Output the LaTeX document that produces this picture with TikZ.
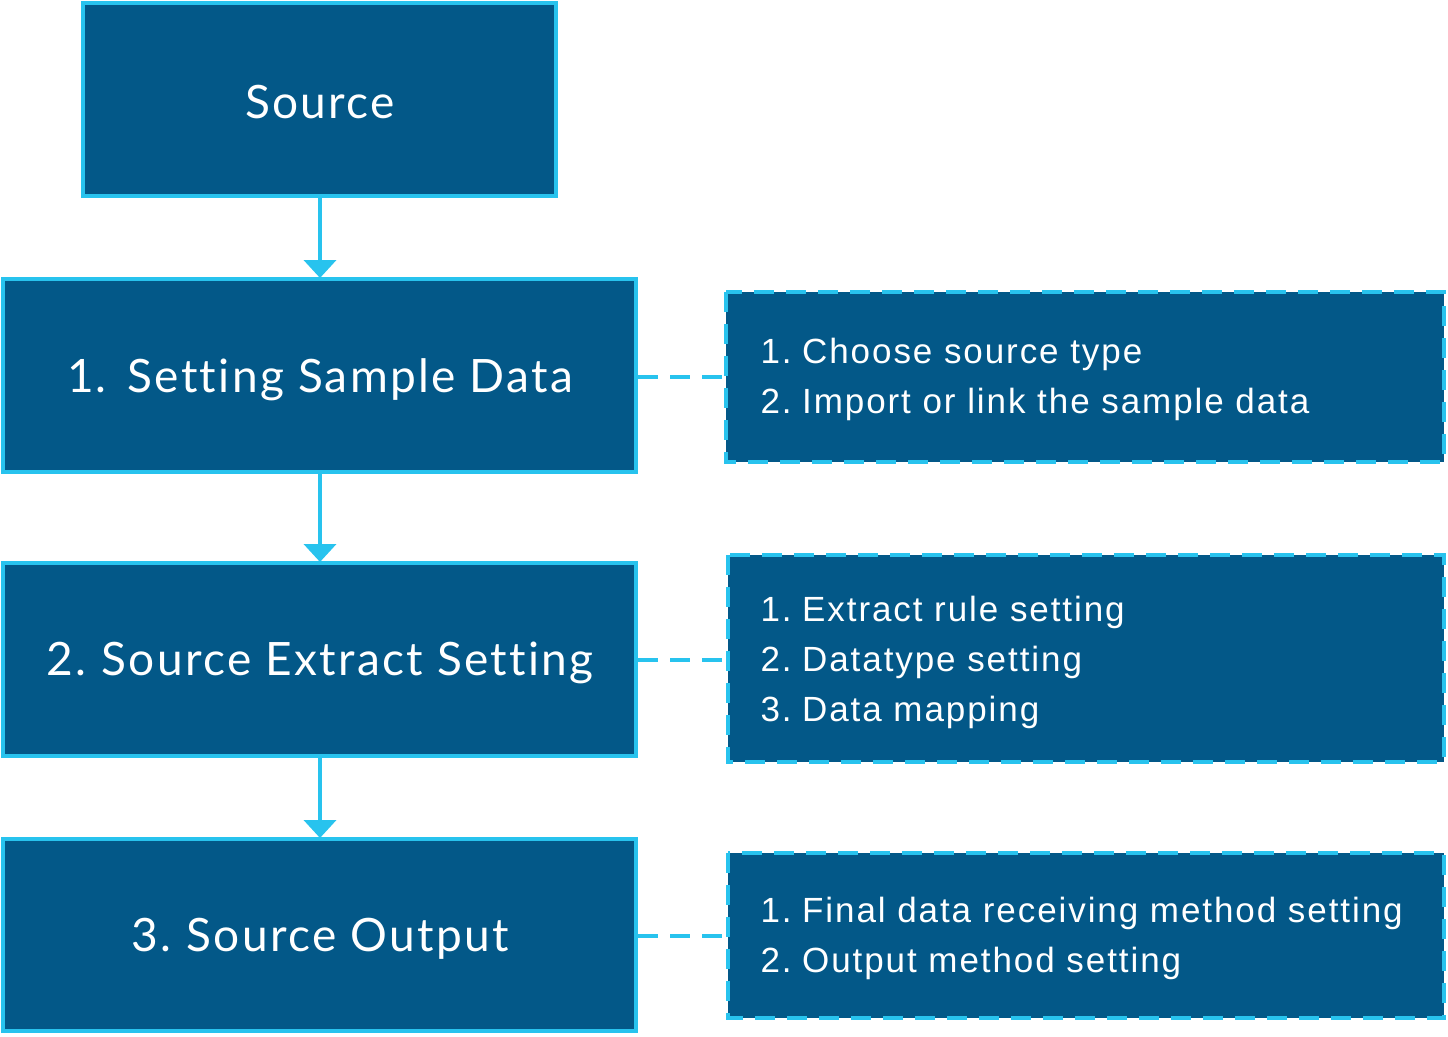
\documentclass[tikz,border=0pt]{standalone}
\usepackage{fontspec}
\setmainfont{Lato}[Ligatures=CommonOff,LetterSpace=5]
\newfontfamily\rfont{Liberation Sans}[LetterSpace=5.5]
\usetikzlibrary{arrows.meta}
\definecolor{boxfill}{HTML}{035888}
\definecolor{boxline}{HTML}{28C3EE}
\newcommand{\nsp}{\hspace{0.3em}}
\newcommand{\msp}{\hspace{0.33em}}
\begin{document}
\begin{tikzpicture}[x=1pt,y=-1pt,
  mainbox/.style={draw=boxline,fill=boxfill,line width=4pt},
  maintext/.style={text=white,font=\fontsize{46}{52}\selectfont},
  sidebox/.style={draw=boxline,fill=boxfill,line width=4pt,dash pattern=on 20pt off 12pt},
  sidetext/.style={text=white,font=\rfont\fontsize{35}{50}\selectfont,align=left,anchor=west},
  flow/.style={draw=boxline,line width=4pt,-{Triangle[width=32pt,length=18pt]},shorten >=-1pt},
  link/.style={draw=boxline,line width=4pt,dash pattern=on 20pt off 12pt}]
\useasboundingbox (0,0) rectangle (1448,1036);
% main boxes
\draw[mainbox] (83,3) rectangle (556,196);
\node[maintext] (src) at (320,102) {Source};
\coordinate (srcS) at (320,198);
\draw[mainbox] (3,279) rectangle (636,472);
\node[maintext] (b1) at (320,380) {1.\hspace{0.45em}Setting Sample Data};
\coordinate (b1N) at (320,277);
\coordinate (b1S) at (320,474);
\coordinate (b1E) at (638,377);
\draw[mainbox] (3,563) rectangle (636,756);
\node[maintext] (b2) at (320,663) {2.\msp Source Extract Setting};
\coordinate (b2N) at (320,561);
\coordinate (b2S) at (320,758);
\coordinate (b2E) at (638,660);
\draw[mainbox] (3,839) rectangle (636,1031);
\node[maintext] (b3) at (320,939) {3.\msp Source Output};
\coordinate (b3N) at (320,837);
\coordinate (b3E) at (638,936);
% side boxes
\draw[sidebox] (726,292) rectangle (1444,462);
\coordinate (sAW) at (724,377);
\node[sidetext] (sa) at (757,379) {1.\nsp Choose source type\\2.\nsp Import or link the sample data};
\draw[sidebox] (728,555) rectangle (1444,762);
\coordinate (sBW) at (726,660);
\node[sidetext] (sb) at (757,662) {1.\nsp Extract rule setting\\2.\nsp Datatype setting\\3.\nsp Data mapping};
\draw[sidebox] (728,853) rectangle (1444,1018);
\coordinate (sCW) at (726,936);
\node[sidetext] (sc) at (757,938) {1.\nsp Final data receiving method setting\\2.\nsp Output method setting};
% connectors
\draw[flow] (srcS) -- (b1N);
\draw[flow] (b1S) -- (b2N);
\draw[flow] (b2S) -- (b3N);
\draw[link] (b1E) -- (sAW);
\draw[link] (b2E) -- (sBW);
\draw[link] (b3E) -- (sCW);
\end{tikzpicture}
\end{document}
